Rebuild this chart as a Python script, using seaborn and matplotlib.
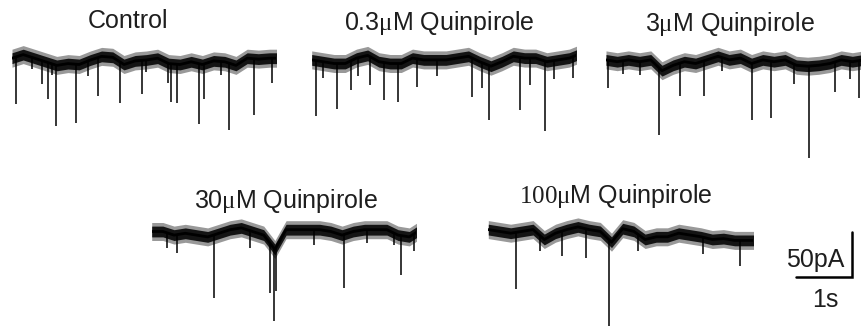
import numpy as np
import matplotlib
matplotlib.use("Agg")
import matplotlib.pyplot as plt
import seaborn as sns

# ---------------- data ----------------
# drift of each trace's baseline (pA), sampled every 0.2 s from 0 to 4.8 s
drift_t = [0.0, 0.2, 0.4, 0.6, 0.8, 1.0, 1.2, 1.4, 1.6, 1.8, 2.0, 2.2, 2.4,
           2.6, 2.8, 3.0, 3.2, 3.4, 3.6, 3.8, 4.0, 4.2, 4.4, 4.6, 4.8]

control_drift = [2, 6, 2, -2, -6, -4, -5, 0, 4, 3, -5, -1, 0, 2, -4, -5, -2, -5, -1, -2, -6, 2, 1, 2, 2]
q03_drift = [2, 0, -2, -2, 4, 7, 0, -2, -2, 4, 2, 2, 2, 4, 6, 0, -5, 0, 6, 4, 4, 0, 2, 4, 9]
q3_drift = [2, 0, 2, 0, 2, -10, -4, 0, -2, 2, 6, 2, 4, -2, 2, 0, 2, -4, -5, -4, -2, 2, 0, 2, 2]
q30_drift = [2, 2, -2, 0, -2, -4, 0, 4, 6, 2, -2, -18, 4, 4, 4, 4, 2, -2, 2, 4, 4, 4, -2, -4, 4]
q100_drift = [6, 4, 2, 4, 6, -5, 2, 6, 9, 6, 4, -8, 7, 4, -5, -2, -2, 2, 0, -2, -5, -4, -6, -6, -6]

# spontaneous events: time (s) and peak amplitude (pA, relative to baseline)
control_ev_t = [0.08, 0.35, 0.53, 0.64, 0.71, 0.79, 1.14, 1.36, 1.54, 1.93, 2.32, 2.40,
                2.78, 2.84, 2.94, 3.34, 3.42, 3.74, 3.87, 4.33, 4.64]
control_ev_a = [-52, -13, -26, -41, -13, -67, -65, -17, -43, -46, -37, -13,
                -22, -43, -43, -67, -39, -15, -74, -63, -28]

q03_ev_t = [0.08, 0.21, 0.46, 0.71, 0.83, 1.04, 1.30, 1.55, 1.88, 2.23, 2.86, 3.04,
            3.17, 3.72, 3.89, 4.17, 4.32, 4.66]
q03_ev_a = [-61, -18, -50, -33, -20, -31, -41, -43, -31, -18, -43, -28,
            -61, -59, -30, -78, -20, -24]

q3_ev_t = [0.04, 0.31, 0.61, 0.95, 1.32, 1.75, 2.07, 2.60, 2.94, 3.36, 3.62, 4.09, 4.36, 4.51]
q3_ev_a = [-31, -15, -15, -74, -37, -39, -15, -63, -63, -22, -102, -33, -20, -41]

q30_ev_t = [0.27, 0.45, 1.11, 1.76, 2.11, 2.18, 2.22, 2.89, 3.43, 3.84, 4.32, 4.45, 4.68]
q30_ev_a = [-17, -20, -70, -19, -56, -81, -48, -17, -59, -15, -13, -44, -19]

q100_ev_t = [0.49, 0.92, 1.31, 1.74, 2.16, 2.68, 3.84, 4.49]
q100_ev_a = [-63, -17, -28, -33, -96, -18, -18, -28]

titles = ["Control", r"0.3$\mathrm{\mu}$M Quinpirole", r"3$\mathrm{\mu}$M Quinpirole",
          r"30$\mathrm{\mu}$M Quinpirole", r"$\mathrm{100\mu}$M Quinpirole"]

scale_time = 1      # s
scale_current = 50  # pA
scale_labels = ["50pA", "1s"]

# ---------------- style / layout ----------------
sns.set_theme(style="white")
plt.rcParams["font.family"] = ["Liberation Sans", "DejaVu Sans"]
plt.rcParams["mathtext.fontset"] = "custom"
plt.rcParams["mathtext.rm"] = "Liberation Serif"
plt.rcParams["mathtext.it"] = "Liberation Serif:italic"
plt.rcParams["mathtext.bf"] = "Liberation Serif:bold"

W, H = 862, 326
PX_PER_S = 56.0
PX_PER_PA = 0.9
DUR = 4.72
YLO, YHI = -112, 24
TXT = "#1e1e1e"
FRINGE = 10.0   # half-width of the light noise fringe (pA)
CORE = 6.0      # half-width of the dark noise core (pA)

fig = plt.figure(figsize=(W / 100, H / 100), dpi=100)
fig.patch.set_facecolor("white")

traces = [
    (control_drift, control_ev_t, control_ev_a, 12.0, 60.0, 128.0, 27.7),
    (q03_drift, q03_ev_t, q03_ev_a, 311.7, 61.7, 439.0, 30.0),
    (q3_drift, q3_ev_t, q3_ev_a, 606.0, 61.7, 730.0, 30.7),
    (q30_drift, q30_ev_t, q30_ev_a, 151.7, 233.3, 286.0, 207.7),
    (q100_drift, q100_ev_t, q100_ev_a, 488.3, 235.0, 615.5, 203.3),
]

t = np.array(drift_t)
for (drift, ev_t, ev_a, x0, yb, tcx, tby), title in zip(traces, titles):
    bottom_px = yb - YLO * PX_PER_PA
    ax = fig.add_axes([x0 / W, (H - bottom_px) / H,
                       DUR * PX_PER_S / W, (YHI - YLO) * PX_PER_PA / H])
    ax.set_xlim(0, DUR)
    ax.set_ylim(YLO, YHI)
    ax.axis("off")
    d = np.array(drift, dtype=float)
    ax.fill_between(t, d - FRINGE, d + FRINGE, color="0.6", lw=0)
    ax.fill_between(t, d - CORE, d + CORE, color="0.08", lw=0)
    sns.lineplot(x=t, y=d, ax=ax, color="black", linewidth=2.0,
                 estimator=None, sort=False, legend=False)
    base = np.interp(ev_t, t, d)
    ax.vlines(ev_t, base, base + np.array(ev_a), color="black", lw=1.1)
    fig.text(tcx / W, 1 - tby / H, title, ha="center", va="baseline",
             fontsize=18, color=TXT)

# scale bar
sax = fig.add_axes([796 / W, (H - 276.7) / H, 56 / W, 45 / H])
sax.set_xlim(0, scale_time)
sax.set_ylim(0, scale_current)
sax.axis("off")
sax.plot([0, scale_time, scale_time], [0, 0, scale_current], color="black",
         lw=1.8, clip_on=False, solid_joinstyle="miter")
fig.text(815.5 / W, 1 - 266.7 / H, scale_labels[0], ha="center", va="baseline",
         fontsize=18, color=TXT)
fig.text(825.5 / W, 1 - 307.3 / H, scale_labels[1], ha="center", va="baseline",
         fontsize=18, color=TXT)

fig.savefig("out.png", dpi=100, facecolor="white")
